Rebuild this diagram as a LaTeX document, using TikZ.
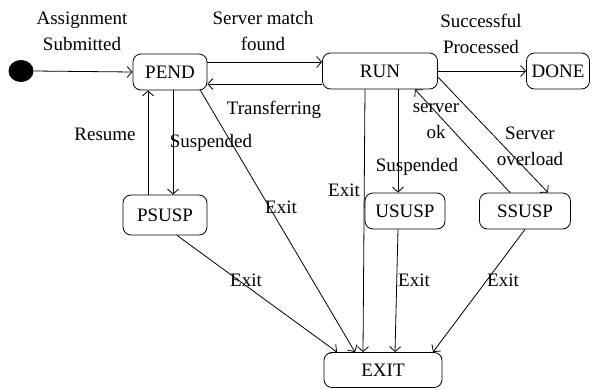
\documentclass[tikz,border=0pt]{standalone}
\usepackage{fontspec}
\setmainfont{Liberation Serif}
\usetikzlibrary{arrows.meta,shapes.geometric}

\tikzset{
  state/.style={draw, rounded corners=8pt, minimum height=36pt, inner sep=2pt},
  trans/.style={-{Straight Barb[length=5pt,width=11pt]}},
  lbl/.style={align=center},
}

\begin{document}
\begin{tikzpicture}[x=1pt, y=-1pt, font=\fontsize{19}{26}\selectfont, line width=0.8pt]
  \useasboundingbox (0,0) rectangle (592,389);

  % states
  \node[fill, ellipse, minimum width=25pt, minimum height=22pt, inner sep=0pt] (init) at (21,71) {};
  \node[state, minimum width=74pt] (pend) at (170,72) {PEND};
  \node[state, minimum width=115pt] (run) at (380,71) {RUN};
  \node[state, minimum width=63pt] (done) at (558,71) {DONE};
  \node[state, minimum width=84pt, minimum height=40pt] (psusp) at (165,215) {PSUSP};
  \node[state, minimum width=80pt] (ususp) at (405,211) {USUSP};
  \node[state, minimum width=91pt] (ssusp) at (525,211) {SSUSP};
  \node[state, minimum width=118pt, minimum height=35pt] (exit) at (383,370) {EXIT};

  % transitions
  \draw[trans] (init.east) -- (pend.west);
  \draw[trans] ([yshift=10pt]pend.east) -- ([yshift=10pt]pend.east -| run.west);
  \draw[trans] ([yshift=-12pt]pend.east -| run.west) -- ([yshift=-12pt]pend.east);
  \draw[trans] (run.east) -- (run.east -| done.west);
  \draw[trans] ([xshift=3pt]pend.south) -- ([xshift=3pt]pend.south |- psusp.north);
  \draw[trans] ([xshift=-22pt]pend.south |- psusp.north) -- ([xshift=-22pt]pend.south);
  \draw[trans] ([xshift=-7pt]pend.south east) -- ([xshift=-28pt]exit.north);
  \draw[trans] ([xshift=12pt]psusp.south) -- ([xshift=-46pt]exit.north);
  \draw[trans] ([xshift=-15pt]run.south) -- ([xshift=-20pt]exit.north);
  \draw[trans] ([xshift=18pt]run.south) -- ([xshift=18pt]run.south |- ususp.north);
  \draw[trans] ([xshift=-7pt]ususp.south) -- ([xshift=12pt]exit.north);
  \draw[trans] ([yshift=-6pt]run.east) -- ([xshift=23pt]ssusp.north);
  \draw[trans] ([xshift=-15pt]ssusp.north) -- ([xshift=35pt]run.south);
  \draw[trans] (ssusp.south) -- ([xshift=50pt]exit.north);

  % labels
  \node[lbl] (assignLbl) at (82,31) {Assignment\\Submitted};
  \node[lbl] (matchLbl) at (263,31) {Server match\\found};
  \node[lbl] (doneLbl) at (481,34) {Successful\\Processed};
  \node (transferLbl) at (274,110) {Transferring};
  \node (resumeLbl) at (105,134) {Resume};
  \node (pSuspLbl) at (211,143) {Suspended};
  \node (uSuspLbl) at (417,167) {Suspended};
  \node[lbl] (okLbl) at (436,121) {server\\ok};
  \node[lbl] (overloadLbl) at (530,146) {Server\\overload};
  \node (pendExitLbl) at (281,207) {Exit};
  \node (runExitLbl) at (344,190) {Exit};
  \node (pSuspExitLbl) at (246,280) {Exit};
  \node (uSuspExitLbl) at (414,280) {Exit};
  \node (sSuspExitLbl) at (503,280) {Exit};
\end{tikzpicture}
\end{document}
